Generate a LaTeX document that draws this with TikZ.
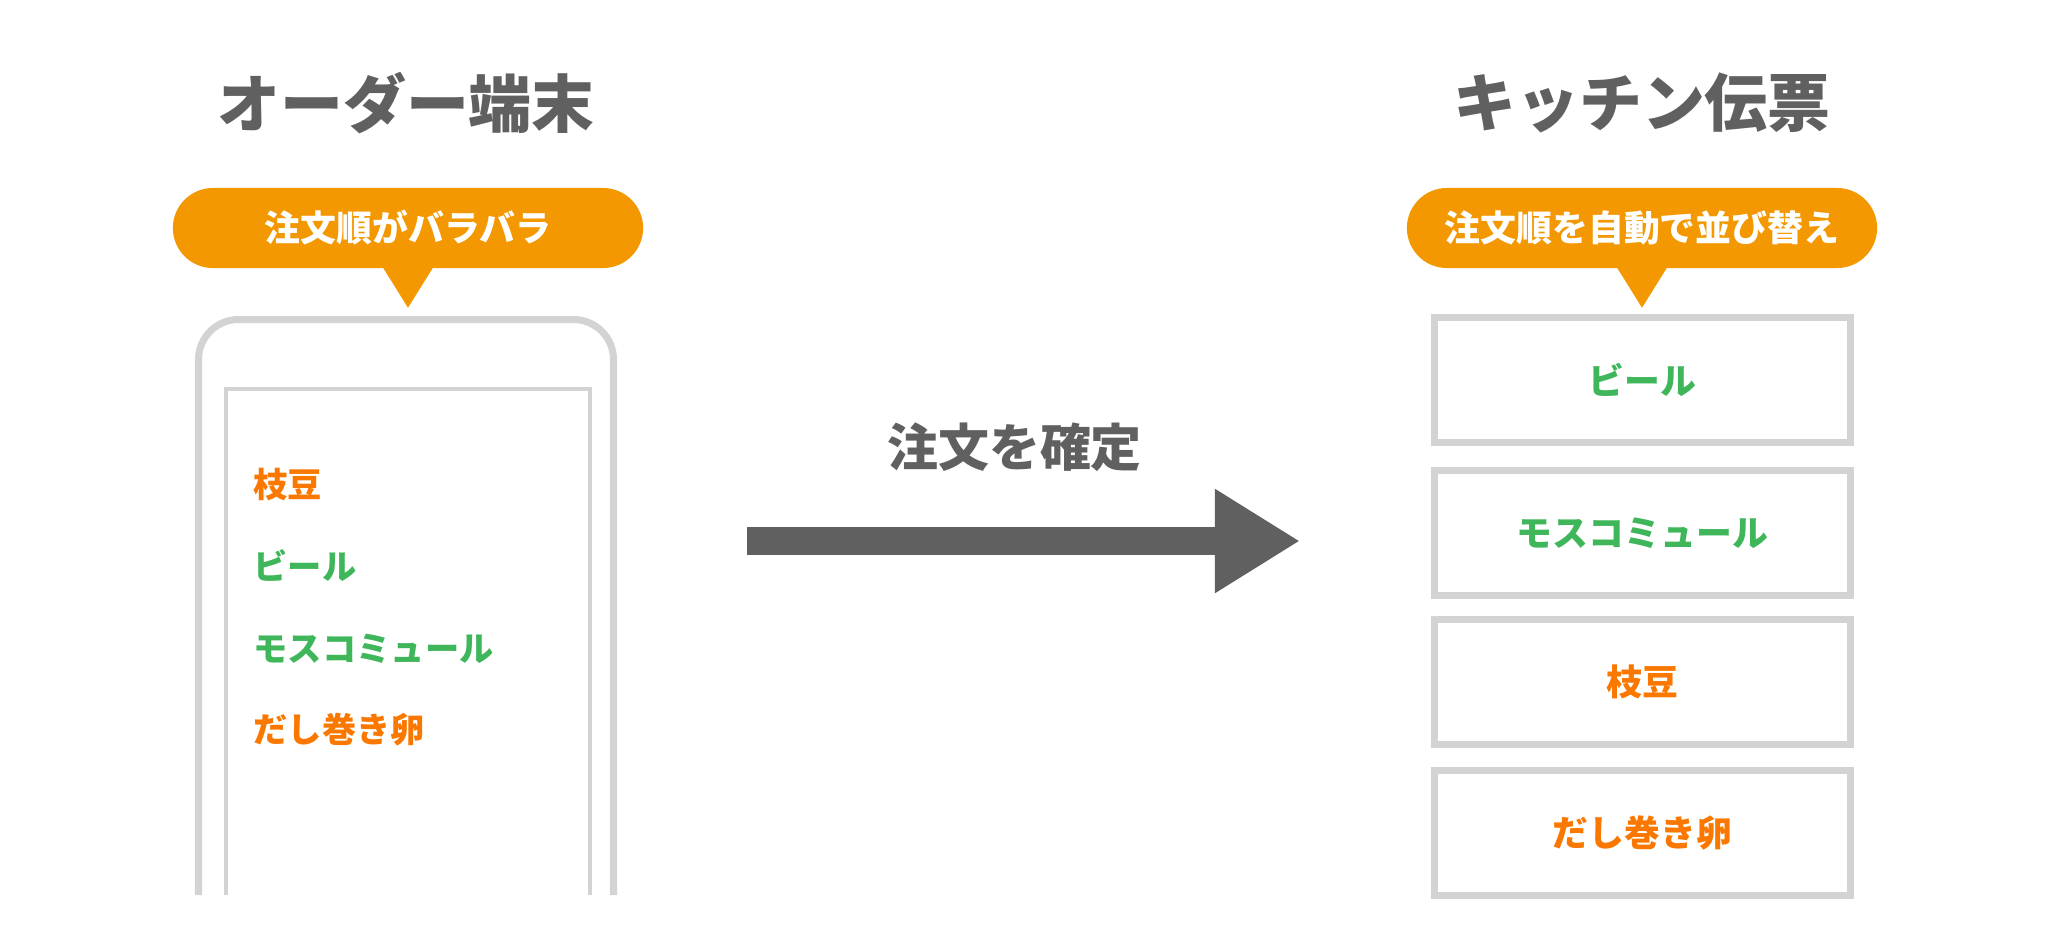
\documentclass[tikz,border=0pt]{standalone}
\usepackage{fontspec}
\setmainfont{Noto Sans CJK JP}
\usetikzlibrary{arrows.meta}

\definecolor{titlegray}{HTML}{606060}
\definecolor{badgeorange}{HTML}{F39800}
\definecolor{dishorange}{HTML}{FA7800}
\definecolor{dishgreen}{HTML}{3FB65A}
\definecolor{framegray}{HTML}{D3D3D3}

\tikzset{
    heading/.style={text=titlegray, inner sep=0pt, font=\fontsize{17.9}{20}\selectfont\bfseries},
    badge/.style={fill=badgeorange, text=white, rounded corners=0.4cm, minimum width=4.7cm, minimum height=0.8cm, inner sep=0pt, font=\fontsize{10.2}{12}\selectfont\bfseries},
    dish/.style={inner sep=0pt, font=\fontsize{9.75}{12}\selectfont\bfseries},
    slip/.style={draw=framegray, line width=2pt, minimum width=4.16cm, minimum height=1.245cm, inner sep=0pt, font=\fontsize{10.2}{12}\selectfont\bfseries}
}

\begin{document}
\begin{tikzpicture}[x=0.01cm, y=-0.01cm]
    \useasboundingbox (0,0) rectangle (2048,938);
    \node (ordertitle) at (406,103) [heading] {オーダー端末};
    \node (kitchentitle) at (1642,103) [heading] {キッチン伝票};
    \node (orderbadge) at (408,228) [badge] {注文順がバラバラ};
    \node (kitchenbadge) at (1642,228) [badge] {注文順を自動で並び替え};
    \fill[badgeorange] ([xshift=-0.255cm, yshift=0.02cm]orderbadge.south) -- ([xshift=0.255cm, yshift=0.02cm]orderbadge.south) -- ([yshift=-0.39cm]orderbadge.south) -- cycle;
    \fill[badgeorange] ([xshift=-0.255cm, yshift=0.02cm]kitchenbadge.south) -- ([xshift=0.255cm, yshift=0.02cm]kitchenbadge.south) -- ([yshift=-0.39cm]kitchenbadge.south) -- cycle;
    \draw[framegray, line width=2pt, rounded corners=0.4cm] (198.5,895) -- (198.5,319.5) -- (613.5,319.5) -- (613.5,895);
    \draw[framegray, line width=1.14pt] (226,895) -- (226,389) -- (590,389) -- (590,895);
    \node (edamame) at (253,485) [dish, anchor=west, text=dishorange] {枝豆};
    \node (beer) at (253,566) [dish, anchor=west, text=dishgreen] {ビール};
    \node (mule) at (253,649) [dish, anchor=west, text=dishgreen] {モスコミュール};
    \node (egg) at (253,730) [dish, anchor=west, text=dishorange] {だし巻き卵};
    \node (slipbeer) at (1642.5,380) [slip, text=dishgreen] {ビール};
    \node (slipmule) at (1642.5,533) [slip, text=dishgreen] {モスコミュール};
    \node (slipedamame) at (1642.5,682) [slip, text=dishorange] {枝豆};
    \node (slipegg) at (1642.5,833) [slip, text=dishorange] {だし巻き卵};
    \coordinate (sendstart) at (747,541);
    \coordinate (sendend) at (1300,541);
    \node (confirm) at (1014.5,447) [heading, font=\fontsize{14.5}{17}\selectfont\bfseries] {注文を確定};
    \draw[titlegray, line width=0.28cm, -{Triangle[length=0.85cm, width=0.98cm]}] (sendstart) -- (sendend);
\end{tikzpicture}
\end{document}
